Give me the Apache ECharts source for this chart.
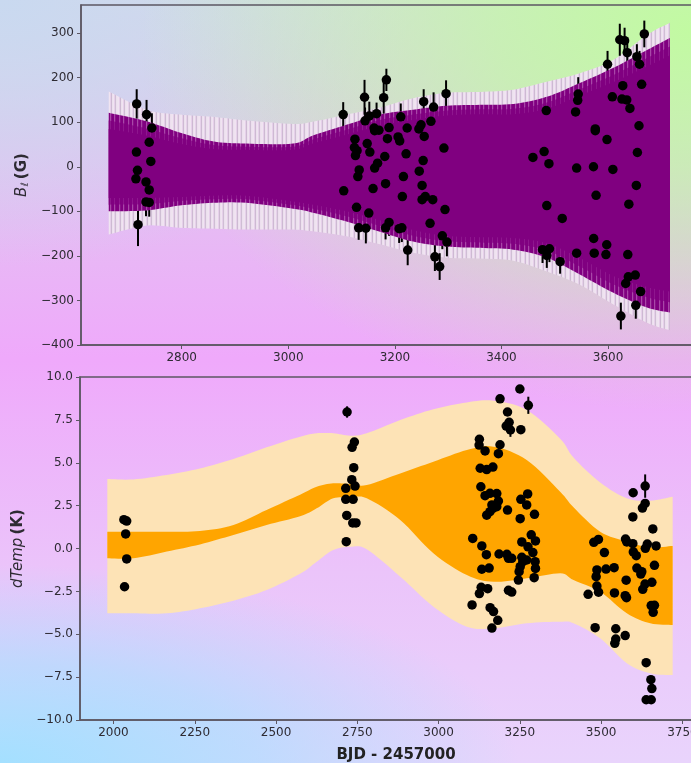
<!DOCTYPE html>
<html><head><meta charset="utf-8">
<style>
html,body{margin:0;padding:0;width:691px;height:763px;overflow:hidden}
body{background:
 radial-gradient(ellipse 80% 50% at 100% 4%, #c2faa2 0%, rgba(194,250,162,.72) 35%, rgba(194,250,162,0) 100%),
 radial-gradient(ellipse 75% 26% at 0% 100%, #a4e0ff 0%, rgba(164,224,255,.6) 50%, rgba(164,224,255,0) 100%),
 radial-gradient(ellipse 60% 35% at 0% 0%, #c9d9f0 0%, rgba(201,217,240,0) 100%),
 linear-gradient(180deg,#d8d8e8 0%,#efa9fb 47%,#ebc4fa 75%,#e9d4fc 100%);}
#c{position:absolute;left:0;top:0;width:691px;height:763px}
</style>
<script src="https://cdn.jsdelivr.net/npm/echarts@6/dist/echarts.min.js"></script>
</head><body><div id="c"></div>
<script>
// Top panel: envelope knots
const fieldT   =[2663,2734,2796,2858,2921,3009,3046,3109,3172,3234,3297,3360,3422,3485,3547,3610,3673,3716];
const outerHi  =[169,128,117,112,104,96,101,117,133,154,166,168,173,191,210,240,296,323];
const outerLo  =[-152,-132,-137,-139,-141,-141,-145,-156,-174,-193,-204,-206,-211,-235,-265,-309,-350,-367];
const purpleHi =[121,102,77,57,52,52,70,94,117,128,137,139,141,157,188,222,262,289];
const purpleLo =[-100,-98,-87,-81,-81,-94,-103,-123,-146,-168,-179,-182,-186,-204,-242,-283,-316,-327];
const midHi    =[104,86,65,49,45,45,61,83,105,117,126,129,130,144,174,206,244,270];
const midLo    =[-85,-84,-77,-73,-73,-86,-94,-111,-133,-155,-167,-170,-173,-188,-224,-264,-293,-304];
const coreHi   =[85,70,52,40,38,38,52,72,92,105,115,118,118,130,160,190,225,250];
const coreLo   =[-70,-70,-68,-65,-65,-78,-85,-100,-120,-142,-155,-158,-160,-172,-205,-245,-270,-280];
// Top panel: measurements [BJD, B, error]
const fieldPoints=[
[2715.5,141,33],[2734,117,33],[2744,87,33],[2739,55,33],[2715,33,33],[2742,12,33],[2717,-8,33],[2714,-27,33],[2733,-34,33],[2739,-52,33],[2733,-79,32],[2739,-80,32],[2718,-130,48],
[3103,117,28],[3104,-54,30],[3125,62,30],[3124,43,30],[3129,36,30],[3126,25,30],[3133,-7,30],[3130.5,-22,30],[3128,-91,30],[3132,-137,27],[3145.5,-138,34],[3151,-104,30],[3159,-49,30],[3148,52,30],[3153,33,30],[3162,-3,30],[3167.5,8,30],[3143,156,39],[3144,103,30],[3152,114,32],[3165.6,119,25],[3161,87,30],[3162,81,30],[3170,82,30],
[3184,195,25],[3179,155,36],[3189,88,30],[3186,63,30],[3211,112,30],[3223,87,30],[3206,67,30],[3209,58,30],[3181,23,30],[3221,29,30],[3216,-22,30],[3182.5,-38,30],[3214,-67,30],[3189,-125,30],[3182.5,-137,26],[3208,-139,32],[3213,-137,32],[3224,-187,34],
[3249,94,30],[3245,85,30],[3254,146,28],[3255,68,30],[3267.6,102,30],[3272.6,134,33],[3296,164,30],[3292,42,30],[3253,14,30],[3245.7,-10,30],[3251,-42,30],[3257,-67,30],[3251,-74,30],[3271,-74,30],[3294,-96,30],[3266,-127,30],[3289,-155,30],[3297.6,-169,32],[3275,-202,32],[3284,-224,30],
[3484,126,30],[3459,21,30],[3480,34,30],[3489,7,30],[3485,-87,30],[3514,-116,30],[3477,-186,30],[3490,-184,30],[3485,-199,28],[3510,-213,27],[3541,-194,30],
[3544,163,38],[3543,149,30],[3539,123,30],[3541,-3,30],[3572.6,0,30],[3576,85,30],[3576,81,30],[3598,61,30],[3609,-6,30],[3577.5,-64,30],[3573,-161,30],[3574,-194,30],[3597.5,-175,30],[3596,-197,30],
[3599,230,30],[3608,157,30],[3622,285,36],[3631,283,29],[3636,256,30],[3627.6,182,30],[3626,152,30],[3635,150,30],[3641,131,30],[3654,247,28],[3659,230,30],[3668,298,30],[3663,185,30],[3658,92,30],[3655,32,30],[3653,-42,30],[3639,-84,30],[3637,-197,30],[3651,-243,30],[3638,-247,30],[3633,-262,30],[3661,-280,30],[3652,-311,30],[3624,-335,30]];

// Bottom panel: envelope knots
const tempT   =[1981,2061,2164,2266,2369,2471,2574,2625,2676,2728,2779,2882,2984,3087,3169,3271,3374,3415,3497,3579,3651,3720];
const lightHi =[4.05,4.03,4.29,4.67,5.22,5.9,6.52,6.72,6.72,6.58,6.72,7.49,8.12,8.52,8.62,8.08,6.4,5.3,3.85,2.93,2.79,3.02];
const lightLo =[-3.78,-3.78,-3.78,-3.49,-3.04,-2.42,-1.47,-.77,-.09,.1,-.05,-1.64,-3.39,-4.56,-4.65,-4.36,-4.27,-4.36,-5.24,-6.69,-7.28,-7.38];
const orangeHi=[.98,.98,.98,1.02,1.37,2.25,3.14,3.6,3.8,3.76,3.7,4.38,5.06,5.74,5.94,5.16,3.31,2.4,.98,.4,.07,.15];
const orangeLo=[-.57,-.57,-.18,.24,.79,1.37,1.88,2.34,2.93,2.96,2.93,1.66,-.28,-1.55,-1.94,-1.74,-1.45,-1.84,-2.52,-3.78,-4.36,-4.46];
// Bottom panel: measurements [BJD, dTemp, error (only where it shows)]
const tempPoints=[
[2032,1.68],[2040.6,1.6],[2037.5,.85],[2040.6,-.61],[2034,-2.23],
[2718.5,7.96,.33],[2741,6.21],[2734,5.9],[2739,4.71],[2733,4.01],[2743,3.64],[2714.5,3.51],[2714.5,2.87],[2737,2.87],[2717.5,1.93],[2736,1.49],[2746,1.49],[2716,.4],
[3250,9.3],[3189,8.73],[3276,8.35,.5],[3212,7.96],[3217,7.36],[3208,7.14],[3221,6.91,.4],[3253,6.93],[3125.5,6.37],[3124.6,6.03],[3189,6.05],[3143,5.69],[3184,5.53],[3128,4.68],[3148,4.6],[3167,4.75],[3130,3.6],[3274,3.18],[3143,3.08],[3158,3.22],[3179,3.2],[3184,2.77],[3253,2.87],[3271,2.54],[3164,2.54],[3179,2.44],[3167,2.34],[3212,2.24],[3158,2.15],[3148,1.94],[3295,1.99],[3251,1.74],
[3285,.8],[3105,.59],[3133,.15],[3256,.38],[3298,.44],[3275,.1],[3290,-.24],[3147,-.36],[3186,-.32],[3210,-.34],[3215,-.57],[3225,-.57],[3256,-.51],[3271,-.67],[3259,-.77],[3297,-.77],[3298,-1.16],[3155.5,-1.14],[3133,-1.21],[3251,-1.06],[3247.7,-1.35],[3245.5,-1.84],[3294,-1.7],[3131,-2.26],[3151,-2.34],[3125.5,-2.63],[3215,-2.44],[3225,-2.54],[3103,-3.29],[3158.5,-3.45],[3169,-3.68],[3182,-4.19],[3164,-4.64],
[3635.4,3.64,.68],[3598.5,3.25],[3635.4,2.63],[3627,2.36],[3597.5,1.84],[3659,1.14],[3491.7,.53],[3477.5,.36],[3575,.55],[3579,.38],[3597.5,.28],[3642,.26],[3636,.01],[3669,.15],[3510,-.24],[3599,-.2],[3608,-.42],[3664,-.98],[3540,-1.12],[3515,-1.2],[3487,-1.25],[3484.6,-1.64],[3610,-1.14],[3625,-1.35],[3622,-1.49],[3577,-1.85],[3656,-1.97],[3635,-2.07],[3628,-2.38],[3487,-2.19],[3492,-2.55],[3460,-2.67],[3541,-2.59],[3574,-2.75],[3578,-2.87],[3664,-3.31],[3654,-3.33],[3660,-3.72],[3481.5,-4.62],[3545,-4.68],[3574,-5.08],[3545,-5.28],[3542,-5.53],[3638.5,-6.66],[3653,-7.65],[3656,-8.17],[3654,-8.82],[3638.5,-8.82]];

// Tick labels
const fieldXTicks=[2800,3000,3200,3400,3600];
const fieldYTicks=[-400,-300,-200,-100,0,100,200,300];
const tempXTicks=[2000,2250,2500,2750,3000,3250,3500,3750];
const tempYTicks=[-10,-7.5,-5,-2.5,0,2.5,5,7.5,10];

const INK='#2e2b33', SPINE='#5c5763', FONT='"DejaVu Sans"';

function stripes(cols){
  const c=document.createElement('canvas');c.width=cols.length;c.height=1;
  const g=c.getContext('2d');
  cols.forEach((col,i)=>{g.fillStyle=col;g.fillRect(i,0,1,1);});
  return {image:c,repeat:'repeat'};
}
const hatchLight=stripes(['#efe3f0','#f0e4f1','#e6d0ea','#cdbad2','#ecdfee','#f0e4f1','#e6d0ea','#cfbed4','#ecdfee']);
const hatchPurple=stripes(['#800080','#800080','#a848a8','#8a108a','#800080','#800080','#a848a8','#8a108a','#800080']);
const hatchMid=stripes(['#800080','#800080','#8e168e','#800080','#800080','#800080','#8e168e','#800080','#800080']);

// Smooth edge through envelope knots, in pixels from the axis scale
function curve(P){
  const out=[];
  for(let i=0;i<P.length-1;i++){
    const p0=P[Math.max(i-1,0)],p1=P[i],p2=P[i+1],p3=P[Math.min(i+2,P.length-1)];
    for(let k=0;k<8;k++){
      const s=k/8,s2=s*s,s3=s2*s;
      out.push([0,1].map(d=>0.5*(2*p1[d]+(p2[d]-p0[d])*s+(2*p0[d]-5*p1[d]+4*p2[d]-p3[d])*s2+(3*p1[d]-p0[d]-3*p2[d]+p3[d])*s3)));
    }
  }
  out.push(P[P.length-1]);
  return out;
}
function band(name,xs,hi,lo,fill,z,ax){
  const rows=xs.map((x,i)=>[x,hi[i],lo[i]]);
  return {
    name:name,type:'custom',xAxisIndex:ax,yAxisIndex:ax,z:z,silent:true,clip:true,data:rows,
    encode:{x:0,y:[1,2]},
    renderItem:(p,api)=>{
      if(p.dataIndex!==0) return null;
      const up=curve(rows.map(r=>api.coord([r[0],r[1]])));
      const dn=curve(rows.map(r=>api.coord([r[0],r[2]])));
      return {type:'polygon',shape:{points:up.concat(dn.reverse())},style:{fill:fill,stroke:null}};
    }
  };
}
function errorBars(name,rows,ax,z){
  return {
    name:name,type:'custom',xAxisIndex:ax,yAxisIndex:ax,z:z,silent:true,clip:true,
    data:rows.filter(r=>r.length>2),
    encode:{x:0,y:1},
    renderItem:(p,api)=>{
      const a=api.coord([api.value(0),api.value(1)+api.value(2)]);
      const b=api.coord([api.value(0),api.value(1)-api.value(2)]);
      return {type:'line',shape:{x1:a[0],y1:a[1],x2:b[0],y2:b[1]},style:{stroke:'#000',lineWidth:2}};
    }
  };
}
function dots(name,rows,ax,z){
  return {name:name,type:'scatter',xAxisIndex:ax,yAxisIndex:ax,z:z,silent:true,symbol:'circle',symbolSize:9.5,
    itemStyle:{color:'#000',opacity:1},data:rows.map(r=>[r[0],r[1]])};
}
function xAxis(idx,min,max,ticks,extra){
  return Object.assign({type:'value',gridIndex:idx,min:min,max:max,splitLine:{show:false},
    axisLine:{show:true,onZero:false,lineStyle:{color:SPINE,width:1.5}},
    axisTick:{show:true,length:4,customValues:ticks,lineStyle:{color:SPINE,width:1}},
    axisLabel:{customValues:ticks,color:INK,fontFamily:FONT,fontSize:12,margin:7,hideOverlap:false,formatter:v=>String(v)}},extra||{});
}
function yAxis(idx,min,max,ticks,fmt,extra){
  return Object.assign({type:'value',gridIndex:idx,min:min,max:max,splitLine:{show:false},
    axisLine:{show:true,onZero:false,lineStyle:{color:SPINE,width:1.5}},
    axisTick:{show:true,length:4,customValues:ticks,lineStyle:{color:SPINE,width:1}},
    axisLabel:{customValues:ticks,color:INK,fontFamily:FONT,fontSize:12,margin:7,hideOverlap:false,formatter:fmt}},extra||{});
}
const minus=s=>String(s).replace('-','\u2212');
const richBase={fontFamily:FONT,color:INK};
const chart=echarts.init(document.getElementById('c'),null,{renderer:'canvas',width:691,height:763});
chart.setOption({
  animation:false,backgroundColor:'transparent',
  grid:[
    {left:81,top:5,width:631,height:340,show:true,borderColor:SPINE,borderWidth:1.5,backgroundColor:'transparent',outerBoundsMode:'none'},
    {left:80,top:377,width:632,height:343,show:true,borderColor:SPINE,borderWidth:1.5,backgroundColor:'transparent',outerBoundsMode:'none'}
  ],
  xAxis:[
    xAxis(0,2611,3795,fieldXTicks),
    xAxis(1,1897,3841,tempXTicks,{name:'BJD - 2457000',nameLocation:'middle',nameGap:28,
      nameTextStyle:{fontFamily:FONT,fontWeight:'bold',fontSize:15,color:'#222'}})
  ],
  yAxis:[
    yAxis(0,-400,363,fieldYTicks,v=>minus(v),{name:'{i|B}{s|\u2113} {b|(G)}',nameLocation:'middle',nameGap:49,
      nameTextStyle:{rich:{i:{...richBase,fontStyle:'italic',fontSize:15},s:{...richBase,fontStyle:'italic',fontSize:10,padding:[6,0,0,0]},b:{...richBase,fontWeight:'bold',fontSize:15}}}}),
    yAxis(1,-10,10,tempYTicks,v=>minus(v.toFixed(1)),{name:'{i|dTemp} {b|(K)}',nameLocation:'middle',nameGap:54,
      nameTextStyle:{rich:{i:{...richBase,fontStyle:'italic',fontSize:15},b:{...richBase,fontWeight:'bold',fontSize:15}}}})
  ],
  series:[
    band('outer',fieldT,outerHi,outerLo,hatchLight,1,0),
    errorBars('field errors',fieldPoints,0,2),
    band('purple',fieldT,purpleHi,purpleLo,hatchPurple,3,0),
    band('mid',fieldT,midHi,midLo,hatchMid,4,0),
    band('core',fieldT,coreHi,coreLo,'#800080',5,0),
    dots('field',fieldPoints,0,6),
    band('light',tempT,lightHi,lightLo,'#fde3b6',1,1),
    band('orange',tempT,orangeHi,orangeLo,'#ffa500',2,1),
    errorBars('temp errors',tempPoints,1,3),
    dots('temp',tempPoints,1,4)
  ]
});
</script></body></html>
